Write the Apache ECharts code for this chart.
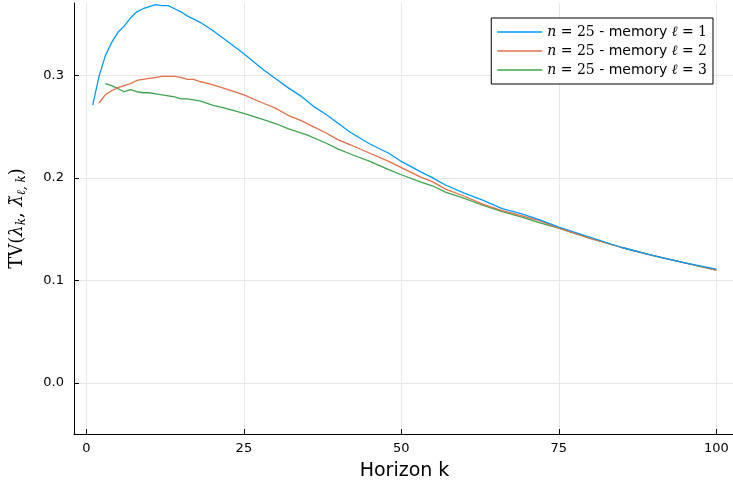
<!DOCTYPE html>
<html>
<head>
<meta charset="utf-8">
<script src="https://cdn.jsdelivr.net/npm/echarts@6/dist/echarts.min.js"></script>
<style>html,body{margin:0;padding:0;background:#fff}#c{width:733px;height:482px}</style>
</head>
<body>
<div id="c"></div>
<script>
const xTicks = [0, 25, 50, 75, 100];
const yTicks = [0.0, 0.1, 0.2, 0.3];
const seriesNames = ['ℓ = 1', 'ℓ = 2', 'ℓ = 3'];

const k1 = [1,2,3,4,5,6,7,8,9,10,11,12,13,14,15,16,18,20,22,25,28,30,32,34,36,38,40,42,45,48,50,53,55,57,60,63,66,69,72,75,80,85,90,95,100];
const tv1 = [0.271,0.299,0.319,0.332,0.342,0.348,0.356,0.362,0.365,0.367,0.369,0.368,0.368,0.365,0.362,0.358,0.352,0.344,0.335,0.321,0.306,0.297,0.288,0.280,0.270,0.262,0.253,0.244,0.233,0.224,0.216,0.206,0.200,0.193,0.185,0.178,0.170,0.165,0.159,0.152,0.142,0.132,0.124,0.117,0.111];

const k2 = [2,3,4,5,6,7,8,9,10,11,12,13,14,15,16,17,18,20,22,25,28,30,32,34,36,38,40,42,45,48,50,53,55,57,60,63,66,69,72,75,80,85,90,95,100];
const tv2 = [0.273,0.281,0.285,0.288,0.290,0.292,0.295,0.296,0.297,0.298,0.299,0.299,0.299,0.298,0.296,0.296,0.294,0.291,0.287,0.281,0.273,0.268,0.261,0.256,0.250,0.244,0.237,0.232,0.224,0.216,0.210,0.201,0.196,0.189,0.182,0.174,0.168,0.163,0.158,0.151,0.141,0.132,0.124,0.117,0.110];

const k3 = [3,4,5,6,7,8,9,10,11,12,13,14,15,16,17,18,20,22,25,28,30,32,35,38,40,42,45,48,50,53,55,57,60,63,66,69,72,75,80,85,90,95,100];
const tv3 = [0.292,0.290,0.287,0.284,0.286,0.284,0.283,0.283,0.282,0.281,0.280,0.279,0.277,0.277,0.276,0.275,0.271,0.268,0.263,0.257,0.253,0.248,0.242,0.234,0.228,0.223,0.216,0.208,0.203,0.196,0.192,0.186,0.180,0.173,0.167,0.162,0.156,0.151,0.141,0.132,0.124,0.117,0.110];

const colors = ['#009AFA', '#E36F47', '#3EA44E'];
const pairs = (ks, vs) => ks.map((k, i) => [k, vs[i]]);
const seriesData = [pairs(k1, tv1), pairs(k2, tv2), pairs(k3, tv3)];

const chart = echarts.init(document.getElementById('c'), null, {renderer: 'canvas'});
const serif = 'DejaVu Serif';
chart.setOption({
  animation: false,
  backgroundColor: '#fff',
  grid: {left: 74, width: 661, top: 3, height: 431, containLabel: false, outerBoundsMode: 'none'},
  legend: {
    top: 18, right: 20,
    orient: 'vertical',
    backgroundColor: '#fff',
    borderColor: '#000', borderWidth: 1, borderRadius: 0,
    padding: [7, 6, 7, 6],
    itemGap: 5,
    itemWidth: 45, itemHeight: 1.5,
    icon: 'rect',
    textStyle: {
      fontFamily: 'DejaVu Sans', fontSize: 14, color: '#000',
      rich: {
        m: {fontFamily: serif, fontSize: 14, color: '#000'},
        i: {fontFamily: serif, fontStyle: 'italic', fontSize: 14, color: '#000'},
        t: {fontFamily: 'DejaVu Sans', fontSize: 14, color: '#000'}
      }
    },
    formatter: function (name) {
      const parts = name.split(' = ');
      return '{i|n} {m|= 25} {t|- memory} {i|ℓ} {m|= ' + parts[1] + '}';
    },
    data: seriesNames
  },
  xAxis: {
    type: 'value', min: -1.97, max: 102.97,
    name: 'Horizon k', nameLocation: 'middle', nameGap: 28,
    nameTextStyle: {fontFamily: 'DejaVu Sans', fontSize: 19, color: '#000'},
    axisLine: {show: true, onZero: false, lineStyle: {color: '#000', width: 1}},
    axisTick: {show: true, inside: true, length: 5, customValues: xTicks, lineStyle: {color: '#000'}},
    axisLabel: {customValues: xTicks, fontFamily: 'DejaVu Sans', fontSize: 13, color: '#000', margin: 8},
    splitLine: {show: true, lineStyle: {color: '#e8e8e8', width: 1}}
  },
  yAxis: {
    type: 'value', min: -0.05, max: 0.3706,
    name: '{n|TV(}{i|λ}{s|k}{n|, }{i|λ̃}{s|ℓ, k}{n|)}',
    nameLocation: 'middle', nameGap: 46, nameRotate: 90,
    nameTextStyle: {
      fontFamily: serif, fontSize: 18, color: '#000',
      rich: {
        n: {fontFamily: serif, fontSize: 18, color: '#000'},
        i: {fontFamily: serif, fontStyle: 'italic', fontSize: 18, color: '#000'},
        s: {fontFamily: serif, fontStyle: 'italic', fontSize: 12, color: '#000', padding: [10, 0, 0, 0]}
      }
    },
    axisLine: {show: true, onZero: false, lineStyle: {color: '#000', width: 1}},
    axisTick: {show: true, inside: true, length: 5, customValues: yTicks, lineStyle: {color: '#000'}},
    axisLabel: {customValues: yTicks, fontFamily: 'DejaVu Sans', fontSize: 13, color: '#000', margin: 10,
      formatter: v => v.toFixed(1)},
    splitLine: {show: true, lineStyle: {color: '#e8e8e8', width: 1}}
  },
  series: seriesNames.map((n, i) => ({
    name: n, type: 'line', data: seriesData[i],
    showSymbol: false, symbol: 'none',
    lineStyle: {color: colors[i], width: 1.3},
    itemStyle: {color: colors[i]},
    z: 3 - i
  }))
});
</script>
</body>
</html>
